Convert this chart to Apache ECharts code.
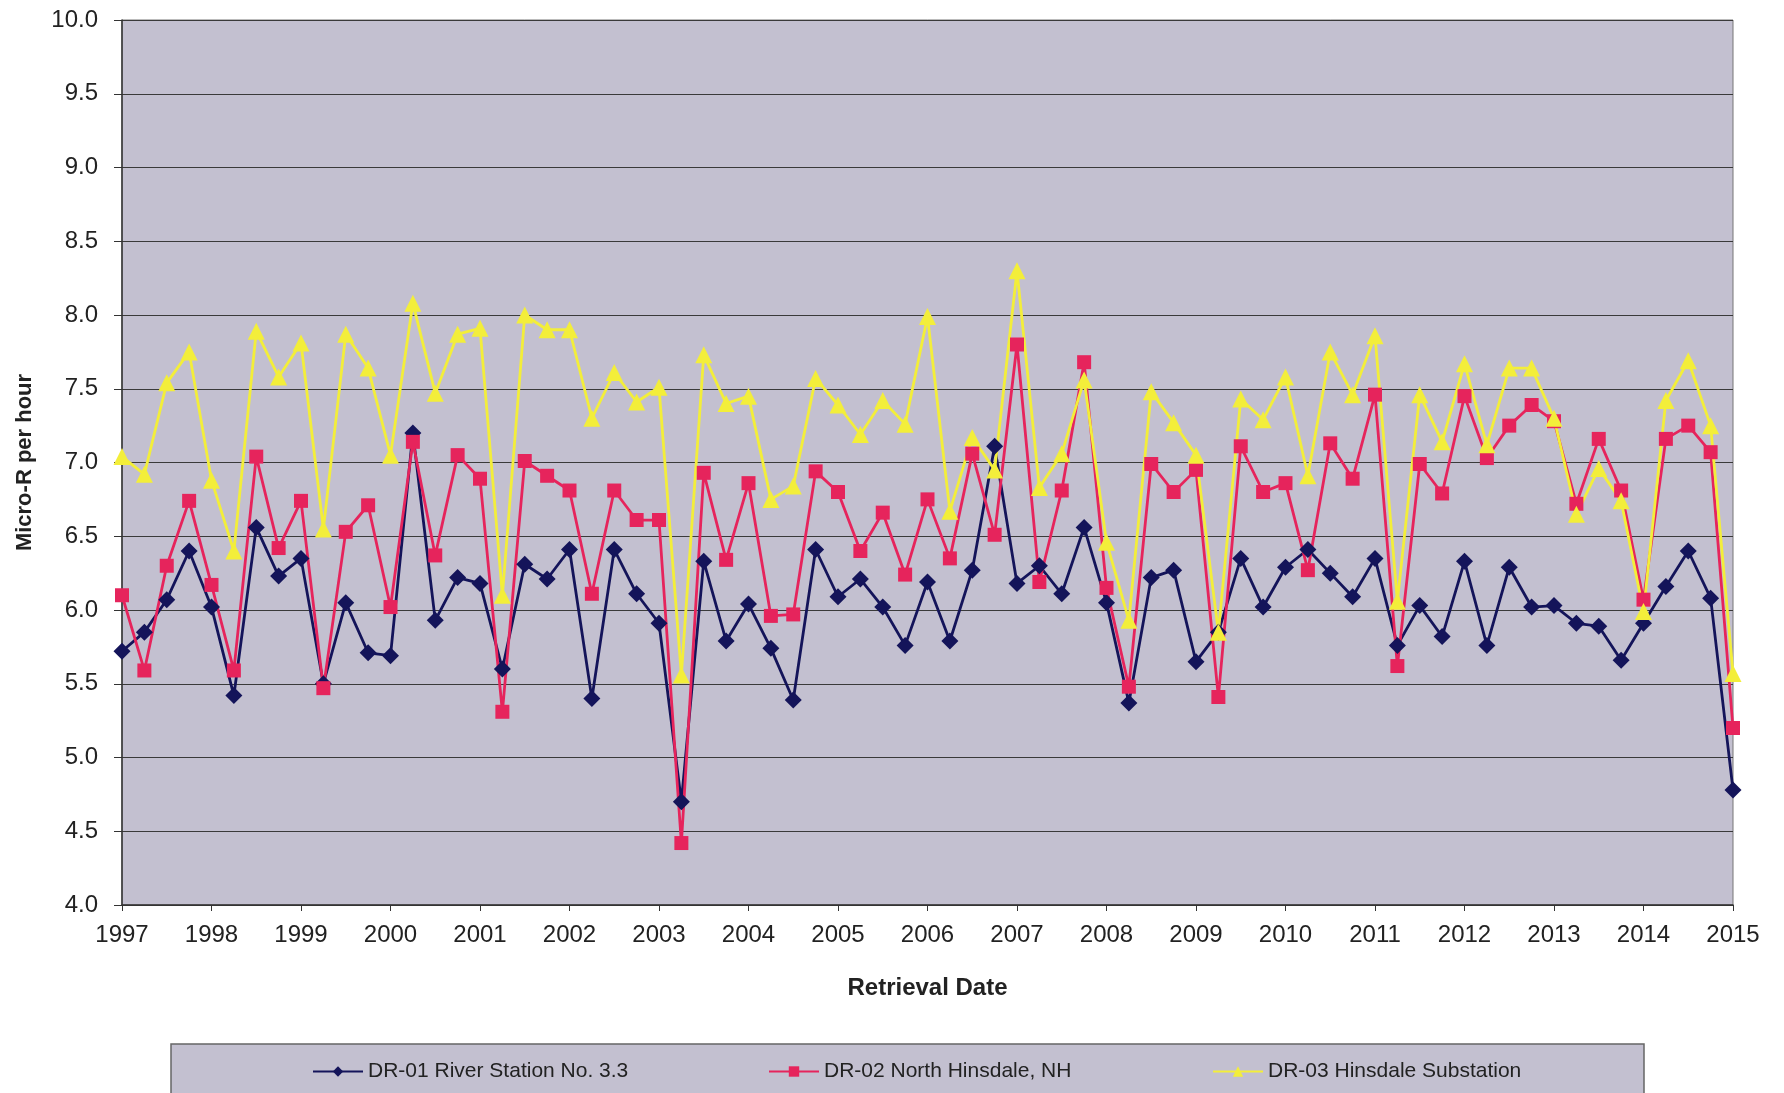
<html lang="en">
<head>
    <meta charset="UTF-8">
    <title>Micro-R per hour</title>
    <script src="https://cdn.jsdelivr.net/npm/echarts@6/dist/echarts.min.js"></script>
</head>
<style>
    html, body {
        margin: 0;
        padding: 0;
        background: #ffffff;
    }
    #container {
        width: 1784px;
        height: 1093px;
    }
</style>
<body>
<div id="container"></div>
<script>
    // quarterly readings, first point 1997.0, one value every quarter up to 2015.0
    var startYear = 1997;
    var yearTicks = [1997, 1998, 1999, 2000, 2001, 2002, 2003, 2004, 2005, 2006,
        2007, 2008, 2009, 2010, 2011, 2012, 2013, 2014, 2015];

    var dr01 = [5.72, 5.85, 6.07, 6.40, 6.02, 5.42, 6.56, 6.23, 6.35, 5.50,
        6.05, 5.71, 5.69, 7.20, 5.93, 6.22, 6.18, 5.60, 6.31, 6.21,
        6.41, 5.40, 6.41, 6.11, 5.91, 4.70, 6.33, 5.79, 6.04, 5.74,
        5.39, 6.41, 6.09, 6.21, 6.02, 5.76, 6.19, 5.79, 6.27, 7.11,
        6.18, 6.30, 6.11, 6.56, 6.05, 5.37, 6.22, 6.27, 5.65, 5.85,
        6.35, 6.02, 6.29, 6.41, 6.25, 6.09, 6.35, 5.76, 6.03, 5.82,
        6.33, 5.76, 6.29, 6.02, 6.03, 5.91, 5.89, 5.66, 5.91, 6.16,
        6.40, 6.08, 4.78];

    var dr02 = [6.10, 5.59, 6.30, 6.74, 6.17, 5.59, 7.04, 6.42, 6.74, 5.47,
        6.53, 6.71, 6.02, 7.14, 6.37, 7.05, 6.89, 5.31, 7.01, 6.91,
        6.81, 6.11, 6.81, 6.61, 6.61, 4.42, 6.93, 6.34, 6.86, 5.96,
        5.97, 6.94, 6.80, 6.40, 6.66, 6.24, 6.75, 6.35, 7.06, 6.51,
        7.80, 6.19, 6.81, 7.68, 6.15, 5.48, 6.99, 6.80, 6.95, 5.41,
        7.11, 6.80, 6.86, 6.27, 7.13, 6.89, 7.46, 5.62, 6.99, 6.79,
        7.45, 7.03, 7.25, 7.39, 7.28, 6.72, 7.16, 6.81, 6.07, 7.16,
        7.25, 7.07, 5.20];

    var dr03 = [7.04, 6.92, 7.54, 7.75, 6.88, 6.40, 7.89, 7.58, 7.81, 6.55,
        7.87, 7.64, 7.05, 8.08, 7.47, 7.87, 7.91, 6.10, 8.00, 7.90,
        7.90, 7.30, 7.61, 7.41, 7.51, 5.56, 7.73, 7.40, 7.45, 6.75,
        6.84, 7.57, 7.39, 7.19, 7.42, 7.26, 7.99, 6.67, 7.17, 6.95,
        8.30, 6.83, 7.06, 7.56, 6.46, 5.93, 7.48, 7.27, 7.05, 5.85,
        7.43, 7.29, 7.58, 6.91, 7.75, 7.46, 7.86, 6.06, 7.46, 7.14,
        7.67, 7.12, 7.64, 7.64, 7.30, 6.65, 6.96, 6.74, 5.99, 7.42,
        7.69, 7.25, 5.57];

    var seriesNames = ['DR-01 River Station No. 3.3', 'DR-02 North Hinsdale, NH', 'DR-03 Hinsdale Substation'];

    function toPoints(values)
    {
        return values.map(function (v, i) { return [startYear + i / 4, v]; });
    }

    var font = "'Liberation Sans', Arial, sans-serif";
    var plotBg = '#c3c0d0';

    var chart = echarts.init(document.getElementById('container'));

    function legendFor(name, left)
    {
        return {
            data: [name],
            left: left,
            top: 1056,
            itemWidth: 50,
            itemHeight: 13,
            textStyle: {fontFamily: font, fontSize: 21, color: '#222'}
        };
    }

    var option = {
        animation: false,
        textStyle: {fontFamily: font},
        grid: {
            left: 122,
            right: 51,
            top: 20,
            bottom: 188,
            show: true,
            backgroundColor: plotBg,
            borderColor: '#777',
            borderWidth: 1
        },
        xAxis: {
            type: 'value',
            min: yearTicks[0],
            max: yearTicks[yearTicks.length - 1],
            interval: 1,
            name: 'Retrieval Date',
            nameLocation: 'middle',
            nameGap: 71,
            nameTextStyle: {fontFamily: font, fontSize: 24, fontWeight: 'bold', color: '#222'},
            axisLine: {lineStyle: {color: '#333', width: 1.5}},
            axisTick: {show: true, length: 6, lineStyle: {color: '#333'}},
            axisLabel: {
                fontFamily: font, fontSize: 24, color: '#222', margin: 18,
                formatter: function (v) { return String(v); }
            },
            splitLine: {show: false}
        },
        yAxis: {
            type: 'value',
            min: 4,
            max: 10,
            interval: 0.5,
            name: 'Micro-R per hour',
            nameLocation: 'middle',
            nameGap: 86,
            nameTextStyle: {fontFamily: font, fontSize: 22, fontWeight: 'bold', color: '#222'},
            axisLine: {show: true, lineStyle: {color: '#333', width: 1.5}},
            axisTick: {show: true, length: 8, lineStyle: {color: '#333'}},
            axisLabel: {
                fontFamily: font, fontSize: 24, color: '#222', margin: 24,
                formatter: function (v) { return v.toFixed(1); }
            },
            splitLine: {show: true, lineStyle: {color: '#3a3a3a', width: 1.2}}
        },
        legend: [
            legendFor(seriesNames[0], 307),
            legendFor(seriesNames[1], 763),
            legendFor(seriesNames[2], 1207)
        ],
        graphic: [
            {
                type: 'rect',
                z: -1,
                shape: {x: 171, y: 1044, width: 1473, height: 60},
                style: {fill: plotBg, stroke: '#666', lineWidth: 1.5}
            }
        ],
        series: [
            {
                name: seriesNames[0],
                type: 'line',
                data: toPoints(dr01),
                symbol: 'diamond',
                symbolSize: 17,
                color: '#14145a',
                lineStyle: {width: 2.8, color: '#14145a'}
            },
            {
                name: seriesNames[1],
                type: 'line',
                data: toPoints(dr02),
                symbol: 'rect',
                symbolSize: 14,
                color: '#e6245c',
                lineStyle: {width: 2.8, color: '#e6245c'}
            },
            {
                name: seriesNames[2],
                type: 'line',
                data: toPoints(dr03),
                symbol: 'triangle',
                symbolSize: 17,
                color: '#f3ee3a',
                lineStyle: {width: 2.8, color: '#f3ee3a'}
            }
        ]
    };

    chart.setOption(option);
</script>
</body>
</html>
